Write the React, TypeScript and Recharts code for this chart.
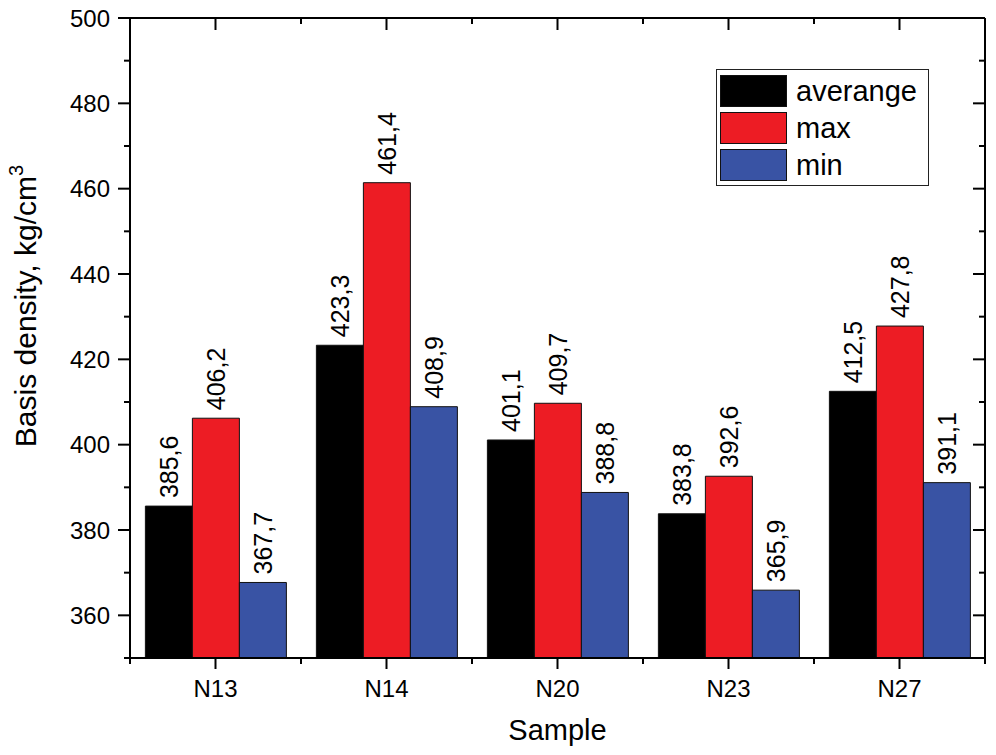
import React from 'react';
import { BarChart, Bar, XAxis, YAxis, Legend, LabelList } from 'recharts';

const SAMPLES = ['N13', 'N14', 'N20', 'N23', 'N27'];
const AVERAGE = [385.6, 423.3, 401.1, 383.8, 412.5];
const MAX = [406.2, 461.4, 409.7, 392.6, 427.8];
const MIN = [367.7, 408.9, 388.8, 365.9, 391.1];
const Y_TICKS = [350, 360, 370, 380, 390, 400, 410, 420, 430, 440, 450, 460, 470, 480, 490, 500];

const FONT = '"Liberation Sans", Arial, Helvetica, sans-serif';
const COLORS = { average: '#000000', max: '#ed1c24', min: '#3953a4' };

const data = SAMPLES.map((sample, i) => ({
  sample,
  average: AVERAGE[i],
  max: MAX[i],
  min: MIN[i],
}));

const fmt = (v: number) => Number(v).toFixed(1).replace('.', ',');

// left axis: ticks point outwards, labels every 20
const LeftTick = (props: any) => {
  const { x, y, payload } = props;
  const major = payload.value % 20 === 0;
  return (
    <g>
      <line x1={x - (major ? 12 : 6)} x2={x} y1={y} y2={y} stroke="#000" strokeWidth={2} />
      {major && (
        <text x={x - 20} y={y} textAnchor="end" dominantBaseline="central" fontSize={24} fontFamily={FONT} fill="#000">
          {payload.value}
        </text>
      )}
    </g>
  );
};

// right axis: ticks point into the plot, no labels
const RightTick = (props: any) => {
  const { x, y, payload } = props;
  const major = payload.value % 20 === 0;
  return <line x1={x} x2={x - (major ? 12 : 6)} y1={y} y2={y} stroke="#000" strokeWidth={2} />;
};

const BottomTick = (props: any) => {
  const { x, y, payload } = props;
  const half = payload.offset ?? 0;
  return (
    <g>
      <line x1={x} x2={x} y1={y} y2={y + 11} stroke="#000" strokeWidth={2} />
      <line x1={x - half} x2={x - half} y1={y} y2={y + 6} stroke="#000" strokeWidth={2} />
      <line x1={x + half} x2={x + half} y1={y} y2={y + 6} stroke="#000" strokeWidth={2} />
      <text x={x} y={y + 39} textAnchor="middle" fontSize={24} fontFamily={FONT} fill="#000">
        {payload.value}
      </text>
    </g>
  );
};

const TopTick = (props: any) => {
  const { x, y, payload } = props;
  const half = payload.offset ?? 0;
  return (
    <g>
      <line x1={x} x2={x} y1={y} y2={y + 12} stroke="#000" strokeWidth={2} />
      <line x1={x - half} x2={x - half} y1={y} y2={y + 6} stroke="#000" strokeWidth={2} />
      <line x1={x + half} x2={x + half} y1={y} y2={y + 6} stroke="#000" strokeWidth={2} />
    </g>
  );
};

const BarLabel = (props: any) => {
  const cx = Number(props.x) + Number(props.width) / 2;
  const cy = Number(props.y) - 8;
  return (
    <text
      x={cx}
      y={cy}
      transform={`rotate(-90, ${cx}, ${cy})`}
      textAnchor="start"
      dominantBaseline="central"
      fontSize={25}
      fontFamily={FONT}
      fill="#000"
    >
      {fmt(props.value)}
    </text>
  );
};

const YTitle = (props: any) => {
  const vb = props.viewBox || { x: 0, y: 18, width: 130, height: 640 };
  const cx = vb.x + 36;
  const cy = vb.y + vb.height / 2 - 32;
  return (
    <text
      x={cx}
      y={cy}
      transform={`rotate(-90, ${cx}, ${cy})`}
      textAnchor="middle"
      fontSize={30}
      fontFamily={FONT}
      fill="#000"
    >
      Basis density, kg/cm
      <tspan dy={-13} fontSize={20}>3</tspan>
    </text>
  );
};

const LegendBox = (props: any) => {
  const items = props.payload || [];
  return (
    <div
      style={{
        border: '1.5px solid #222',
        background: '#fff',
        padding: '2px 3px',
        width: 213,
        fontFamily: FONT,
        boxSizing: 'border-box',
      }}
    >
      {items.map((item: any) => (
        <div key={item.value} style={{ display: 'flex', alignItems: 'center', height: 37 }}>
          <div
            style={{
              width: 67,
              height: 32,
              background: item.color,
              border: '1px solid #111',
              boxSizing: 'border-box',
            }}
          />
          <span style={{ marginLeft: 9, fontSize: 29, color: '#000', lineHeight: '32px' }}>{item.value}</span>
        </div>
      ))}
    </div>
  );
};

export default function App() {
  return (
    <div style={{ position: 'absolute', left: 0, top: 0, background: '#fff' }}>
      <BarChart
        width={996}
        height={755}
        data={data}
        margin={{ top: 0, right: 0, bottom: 0, left: 0 }}
        barCategoryGap="9%"
        barGap={0}
      >
        <XAxis
          xAxisId="x"
          dataKey="sample"
          height={97}
          tickSize={0}
          tickMargin={0}
          tickLine={false}
          axisLine={{ stroke: '#000', strokeWidth: 2 }}
          tick={<BottomTick />}
          interval={0}
          label={{ value: 'Sample', position: 'insideBottom', offset: 15, fontSize: 29, fill: '#000', fontFamily: FONT }}
        />
        <XAxis
          xAxisId="top"
          dataKey="sample"
          orientation="top"
          height={18}
          tickSize={0}
          tickMargin={0}
          tickLine={false}
          axisLine={{ stroke: '#000', strokeWidth: 2 }}
          tick={<TopTick />}
          interval={0}
        />
        <YAxis
          yAxisId="left"
          type="number"
          domain={[350, 500]}
          ticks={Y_TICKS}
          interval={0}
          width={130}
          tickSize={0}
          tickMargin={0}
          tickLine={false}
          axisLine={{ stroke: '#000', strokeWidth: 2 }}
          tick={<LeftTick />}
          allowDataOverflow
          label={{ content: YTitle }}
        />
        <YAxis
          yAxisId="right"
          orientation="right"
          type="number"
          domain={[350, 500]}
          ticks={Y_TICKS}
          interval={0}
          width={11}
          tickSize={0}
          tickMargin={0}
          tickLine={false}
          axisLine={{ stroke: '#000', strokeWidth: 2 }}
          tick={<RightTick />}
          allowDataOverflow
        />
        <Legend
          layout="vertical"
          align="center"
          verticalAlign="middle"
          content={<LegendBox />}
          wrapperStyle={{ left: 716, top: 69, width: 213, height: 114 }}
        />
        <Bar xAxisId="x" yAxisId="left" dataKey="average" name="averange" fill={COLORS.average} stroke="#111" strokeWidth={1} isAnimationActive={false}>
          <LabelList dataKey="average" content={<BarLabel />} />
        </Bar>
        <Bar xAxisId="x" yAxisId="left" dataKey="max" name="max" fill={COLORS.max} stroke="#111" strokeWidth={1} isAnimationActive={false}>
          <LabelList dataKey="max" content={<BarLabel />} />
        </Bar>
        <Bar xAxisId="x" yAxisId="left" dataKey="min" name="min" fill={COLORS.min} stroke="#111" strokeWidth={1} isAnimationActive={false}>
          <LabelList dataKey="min" content={<BarLabel />} />
        </Bar>
      </BarChart>
    </div>
  );
}
